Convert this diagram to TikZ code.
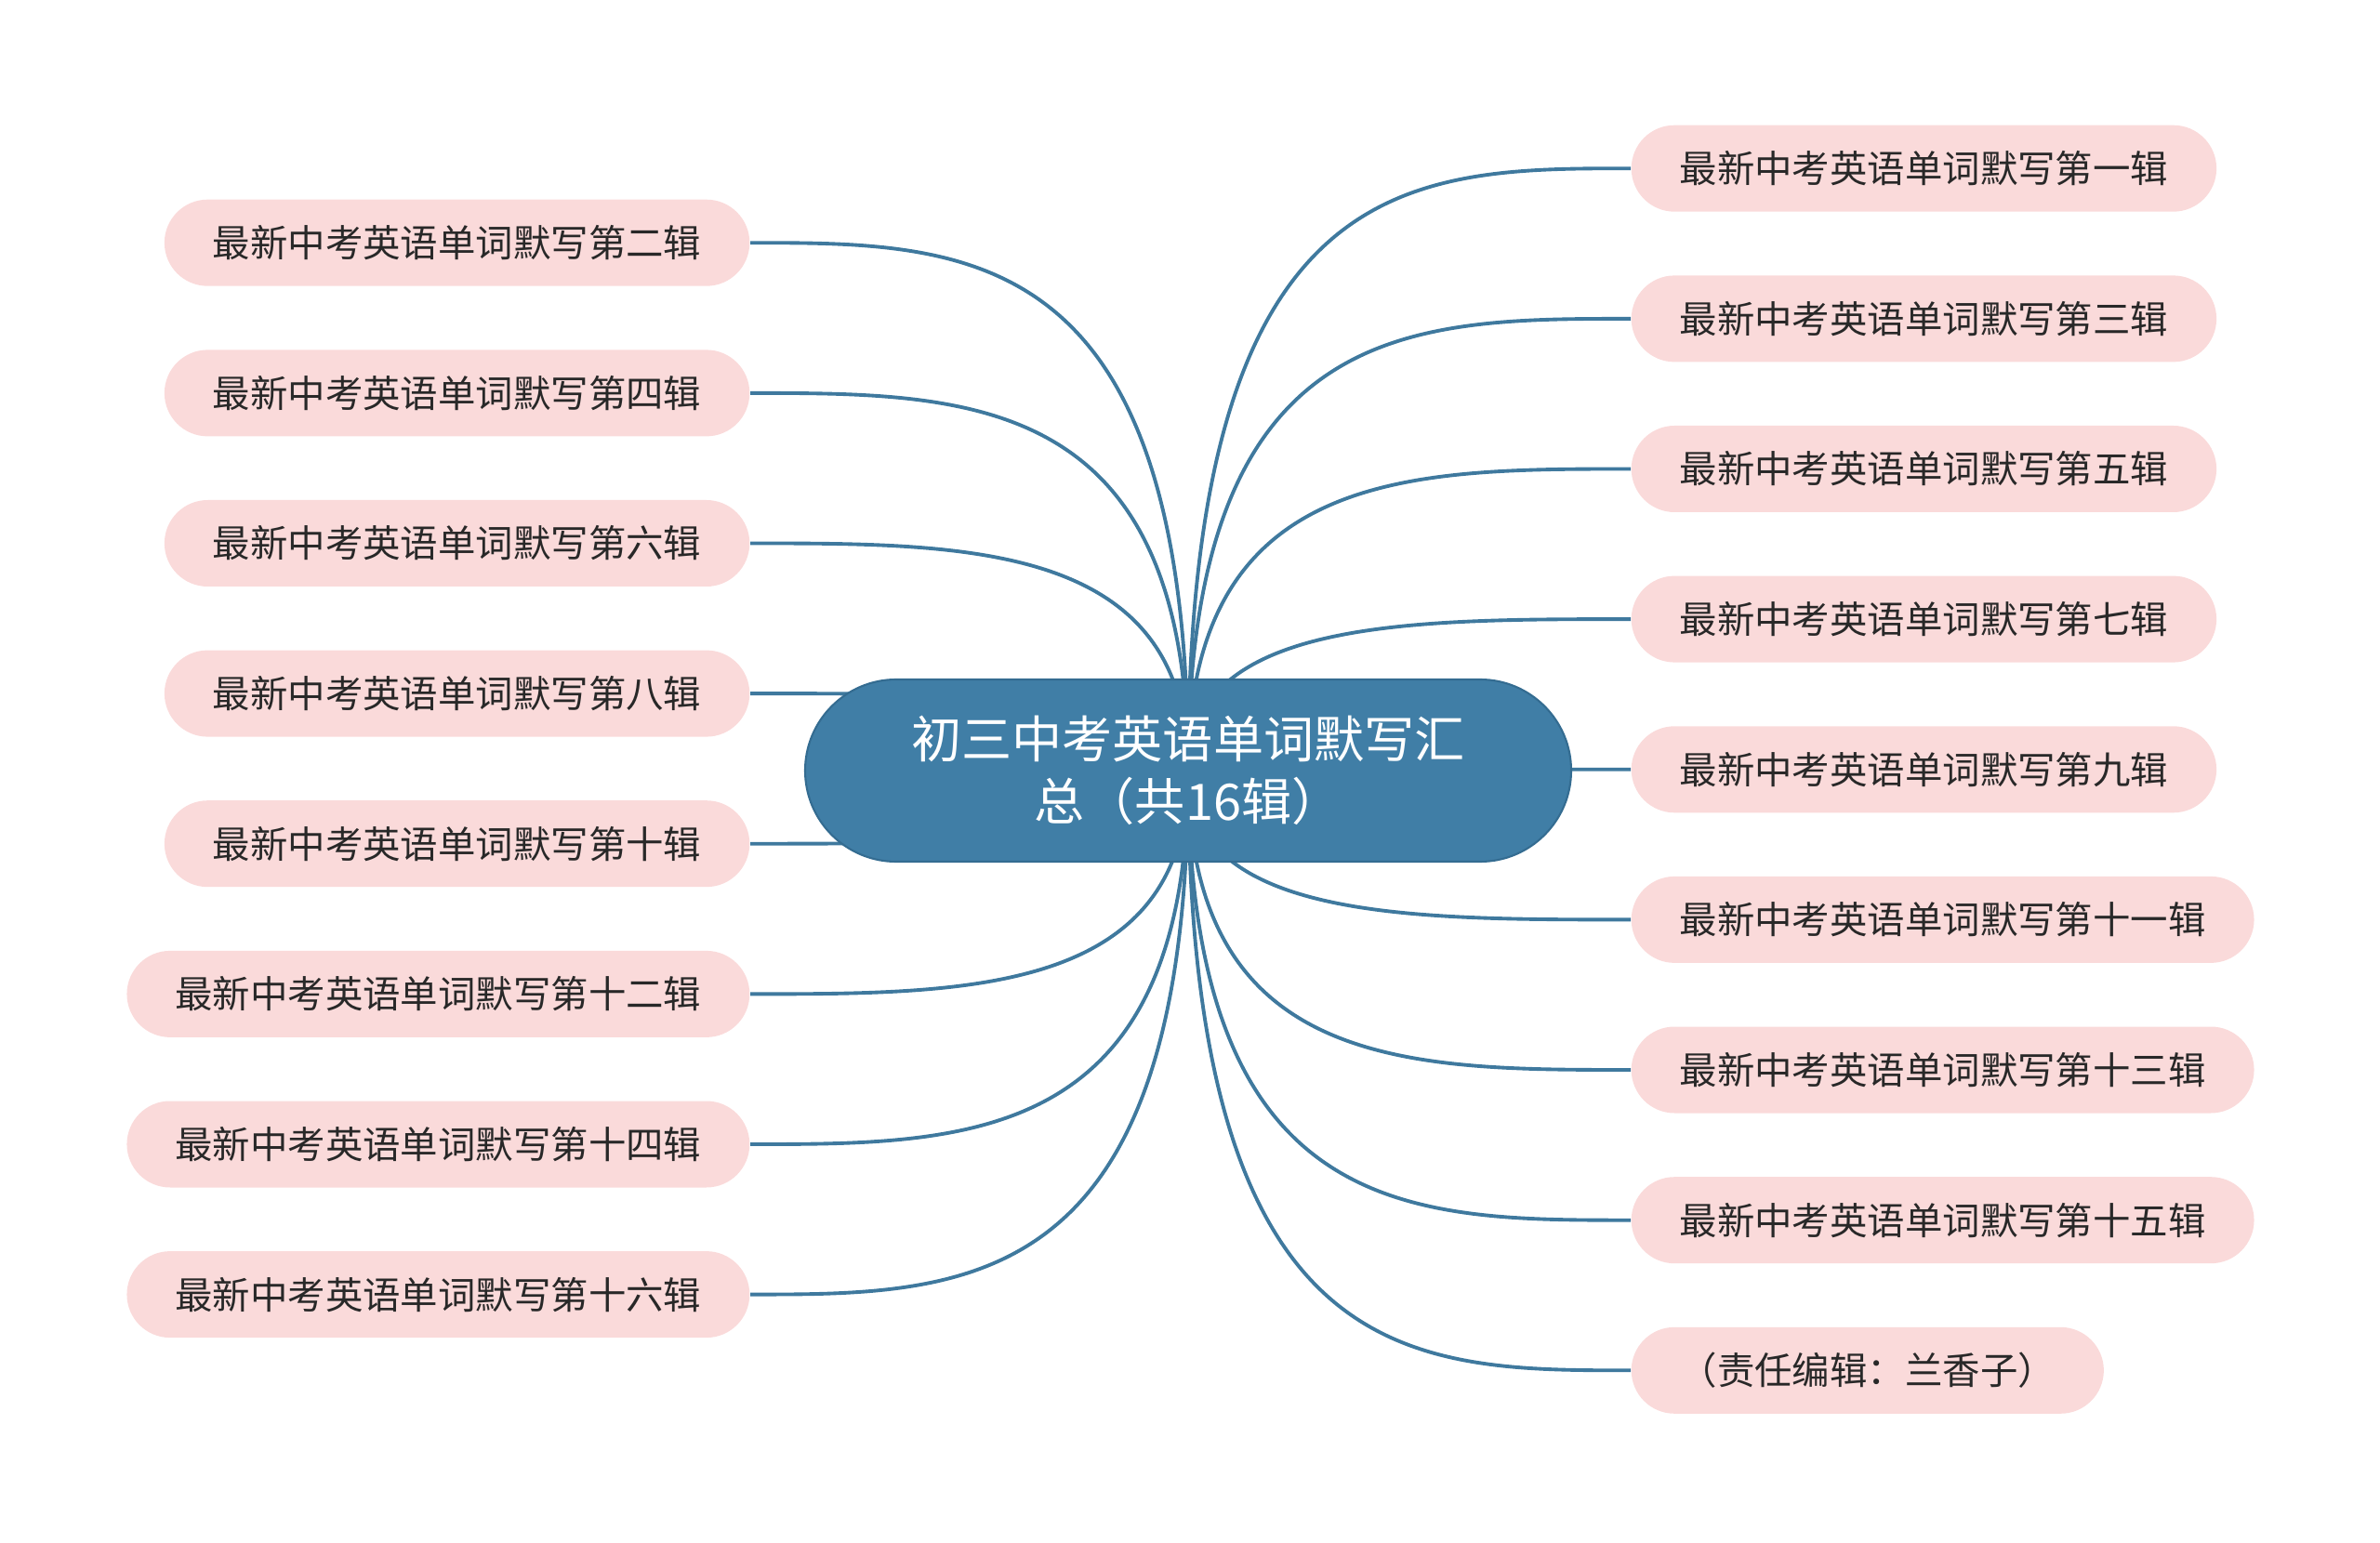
\documentclass[tikz,border=0pt]{standalone}
\usepackage{fontspec}
\setmainfont{Noto Sans CJK SC}
\usepackage{xcolor}
\usepackage{tikz}
\usetikzlibrary{
    positioning,
    calc,
    backgrounds
}
\definecolor{rootblue}{RGB}{64,126,166}
\definecolor{rootedge}{RGB}{52,108,145}
\definecolor{linkblue}{RGB}{63,121,158}
\definecolor{leafpink}{RGB}{250,218,218}
\definecolor{leaftext}{RGB}{40,40,40}
\tikzset{
  root/.style = {
      draw=rootedge,
      line width=0.6pt,
      fill=rootblue,
      text=white,
      rounded corners=0.98cm,
      minimum width=8.24cm,
      minimum height=1.96cm,
      text width=6.4cm,
      align=center,
      font=\fontsize{15.4}{19}\selectfont
  },
  leaf/.style = {
      fill=leafpink,
      text=leaftext,
      rounded corners=0.465cm,
      minimum height=0.93cm,
      inner xsep=0.52cm,
      font=\fontsize{11.5}{14}\selectfont
  },
  right leaf/.style = {
      leaf,
      anchor=west
  },
  left leaf/.style = {
      leaf,
      anchor=east
  },
  link/.style = {
      draw=linkblue,
      line width=1.1pt,
      to path={.. controls (\tikztostart |- \tikztotarget)
        and ($(\tikztostart |- \tikztotarget)!0.5!(\tikztotarget)$) .. (\tikztotarget)}
  }
}

\begin{document}
\begin{tikzpicture}
    \useasboundingbox (0,0) rectangle (25.6,16.59);
    \node[root] (root) at (12.78,8.30) {初三中考英语单词默写汇\\总（共16辑）};
    % right side
    \node[right leaf] (r1) at (17.54,14.778) {最新中考英语单词默写第一辑};
    \node[right leaf] (r2) at (17.54,13.161) {最新中考英语单词默写第三辑};
    \node[right leaf] (r3) at (17.54,11.545) {最新中考英语单词默写第五辑};
    \node[right leaf] (r4) at (17.54,9.929) {最新中考英语单词默写第七辑};
    \node[right leaf] (r5) at (17.54,8.312) {最新中考英语单词默写第九辑};
    \node[right leaf] (r6) at (17.54,6.696) {最新中考英语单词默写第十一辑};
    \node[right leaf] (r7) at (17.54,5.080) {最新中考英语单词默写第十三辑};
    \node[right leaf] (r8) at (17.54,3.463) {最新中考英语单词默写第十五辑};
    \node[right leaf] (r9) at (17.54,1.847) {（责任编辑：兰香子）};
    % left side
    \node[left leaf] (l1) at (8.07,13.978) {最新中考英语单词默写第二辑};
    \node[left leaf] (l2) at (8.07,12.361) {最新中考英语单词默写第四辑};
    \node[left leaf] (l3) at (8.07,10.745) {最新中考英语单词默写第六辑};
    \node[left leaf] (l4) at (8.07,9.129) {最新中考英语单词默写第八辑};
    \node[left leaf] (l5) at (8.07,7.513) {最新中考英语单词默写第十辑};
    \node[left leaf] (l6) at (8.07,5.896) {最新中考英语单词默写第十二辑};
    \node[left leaf] (l7) at (8.07,4.280) {最新中考英语单词默写第十四辑};
    \node[left leaf] (l8) at (8.07,2.664) {最新中考英语单词默写第十六辑};
    % links
    \begin{scope}[on background layer]
        \foreach \n in {r1,r2,r3,r4,r5,r6,r7,r8,r9}
            \draw[link] (root.center) to (\n.west);
        \foreach \n in {l1,l2,l3,l4,l5,l6,l7,l8}
            \draw[link] (root.center) to (\n.east);
    \end{scope}
\end{tikzpicture}
\end{document}
